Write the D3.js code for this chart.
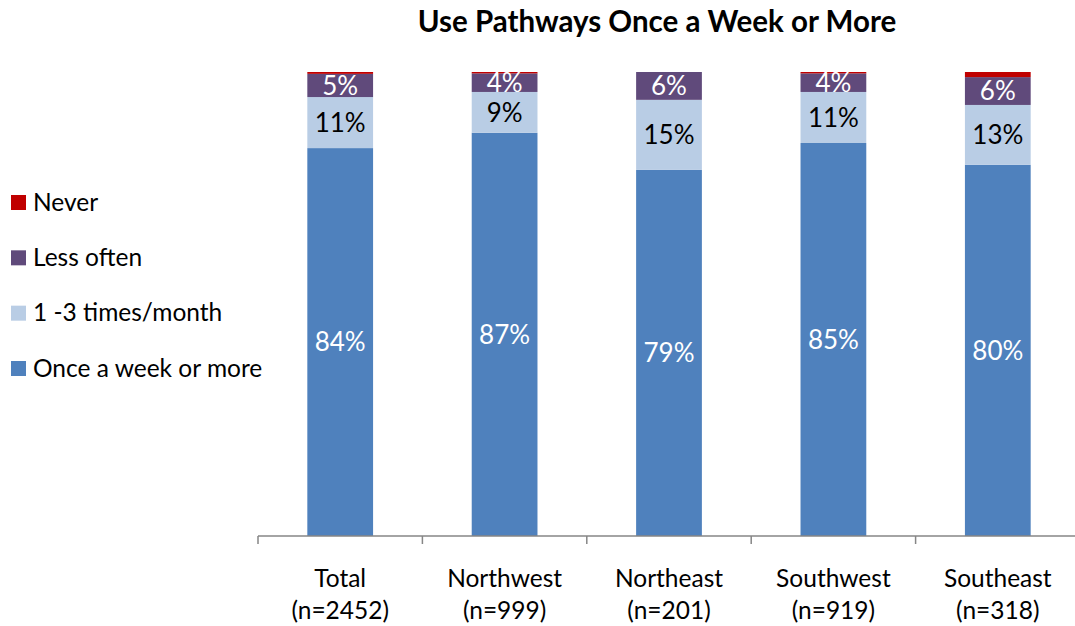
<!DOCTYPE html>
<html>
<head>
<meta charset="utf-8">
<script src="https://cdn.jsdelivr.net/npm/d3@7"></script>
<style>
  html, body { margin: 0; padding: 0; background: #fff; }
  svg { display: block; font-family: Lato, "Open Sans", sans-serif; }
</style>
</head>
<body>
<svg id="chart" width="1075" height="626"></svg>
<script>
const title = "Use Pathways Once a Week or More";
const categories = ["Total", "Northwest", "Northeast", "Southwest", "Southeast"];
const sampleSizes = ["(n=2452)", "(n=999)", "(n=201)", "(n=919)", "(n=318)"];
const seriesNames = ["Once a week or more", "1 -3 times/month", "Less often", "Never"];
const onceAWeek = [83.6, 86.9, 78.9, 84.7, 80.0];
const oneToThree = [11.0, 8.8, 15.1, 11.0, 12.9];
const lessOften = [5.0, 4.0, 6.0, 4.0, 6.0];
const never = [0.4, 0.3, 0.0, 0.3, 1.1];
const colors = ["#4F81BD", "#B9CDE5", "#604A7B", "#C00000"];
const labelColors = ["#FFFFFF", "#000000", "#FFFFFF", null];

const svg = d3.select("#chart");

const rows = categories.map((c, i) => ({
  cat: c, n: sampleSizes[i],
  s0: onceAWeek[i], s1: oneToThree[i], s2: lessOften[i], s3: never[i]
}));
const keys = ["s0", "s1", "s2", "s3"];
const stacked = d3.stack().keys(keys)(rows);

const x = d3.scaleBand().domain(categories).range([258, 1080]).paddingInner(0.6).paddingOuter(0.3);
const y = d3.scaleLinear().domain([0, 100]).range([536, 72]);

// title
svg.append("text").attr("x", 657).attr("y", 32).attr("text-anchor", "middle")
  .attr("font-size", 29.5).attr("font-weight", "bold").attr("fill", "#000").text(title);

// bars
const layer = svg.selectAll("g.layer").data(stacked).join("g").attr("class", "layer")
  .attr("fill", (d, i) => colors[i]);
layer.selectAll("rect").data(d => d).join("rect")
  .attr("x", d => x(d.data.cat))
  .attr("width", x.bandwidth())
  .attr("y", d => y(d[1]))
  .attr("height", d => y(d[0]) - y(d[1]));

// labels
const fmt = d3.format(".0f");
stacked.forEach((s, i) => {
  if (!labelColors[i]) return;
  svg.append("g").selectAll("text").data(s).join("text")
    .attr("x", d => x(d.data.cat) + x.bandwidth() / 2)
    .attr("y", d => (y(d[0]) + y(d[1])) / 2)
    .attr("dy", "0.36em")
    .attr("text-anchor", "middle")
    .attr("font-size", 26)
    .attr("fill", labelColors[i])
    .text(d => fmt(d[1] - d[0]) + "%");
});

// axis
const step = x.step();
const bounds = categories.map(c => x(c) - (step - x.bandwidth()) / 2);
bounds.push(bounds[bounds.length - 1] + step);
const axis = svg.append("g").attr("stroke", "#868686").attr("stroke-width", 1.5);
axis.append("line").attr("x1", bounds[0]).attr("x2", bounds[bounds.length - 1])
  .attr("y1", y(0)).attr("y2", y(0));
axis.selectAll("line.tick").data(bounds).join("line").attr("class", "tick")
  .attr("x1", d => d).attr("x2", d => d).attr("y1", y(0)).attr("y2", y(0) + 8);

const catLabels = svg.append("g").selectAll("text").data(rows).join("text")
  .attr("text-anchor", "middle").attr("font-size", 24.5).attr("fill", "#000")
  .attr("x", d => x(d.cat) + x.bandwidth() / 2);
catLabels.append("tspan").attr("x", d => x(d.cat) + x.bandwidth() / 2).attr("y", 587).text(d => d.cat);
catLabels.append("tspan").attr("x", d => x(d.cat) + x.bandwidth() / 2).attr("y", 619).text(d => d.n);

// legend
const legendOrder = [3, 2, 1, 0];
const legendY = d3.scalePoint().domain(legendOrder).range([202, 368]);
const lg = svg.append("g").selectAll("g").data(legendOrder).join("g")
  .attr("transform", d => `translate(11, ${legendY(d)})`);
lg.append("rect").attr("x", 0).attr("y", -7).attr("width", 15).attr("height", 15)
  .attr("fill", d => colors[d]);
lg.append("text").attr("x", 22).attr("dy", "0.36em").attr("font-size", 24.5).attr("fill", "#000")
  .text(d => seriesNames[d]);
</script>
</body>
</html>
